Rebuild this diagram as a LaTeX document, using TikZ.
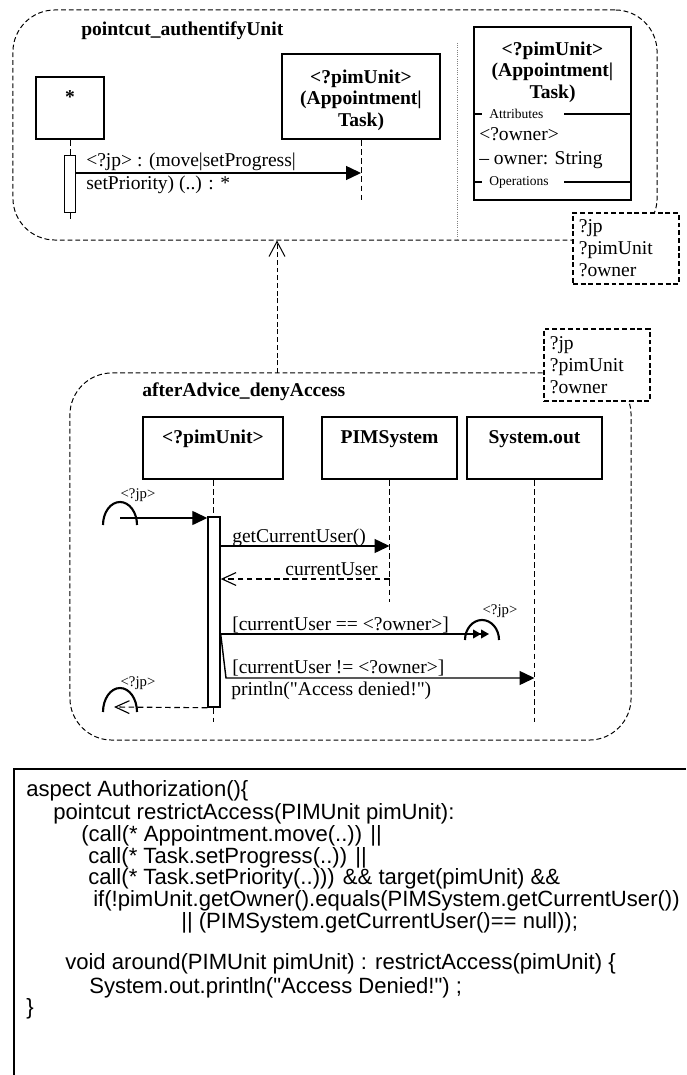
\documentclass[tikz,border=0pt]{standalone}
\usepackage{fontspec}
\setmainfont{Liberation Serif}
\newfontfamily\codefont{Liberation Sans}
\usetikzlibrary{arrows.meta, positioning, calc}

\begin{document}
\begin{tikzpicture}[
    x=0.025cm, y=-0.025cm,
    txt/.style={inner sep=0pt, font=\fontsize{13.9}{15.6}\selectfont},
    bold/.style={inner sep=0pt, font=\fontsize{13.9}{15.3}\selectfont\bfseries},
    compart/.style={inner sep=0pt, font=\fontsize{9.6}{11}\selectfont},
    jplabel/.style={inner sep=0pt, font=\fontsize{10.5}{12}\selectfont},
    code/.style={inner sep=0pt, anchor=base west, font=\codefont\fontsize{15.7}{17}\selectfont},
    group/.style={draw, line width=0.7pt, dash pattern=on 3.5pt off 2pt, rounded corners=1.05cm},
    params/.style={draw, fill=white, line width=1.2pt, dash pattern=on 3.5pt off 2pt, anchor=north west, align=left,
        text width=2.35cm, inner xsep=0.15cm, inner ysep=0.12cm, font=\fontsize{13.9}{15.6}\selectfont},
    obj/.style={draw, line width=1.3pt, inner sep=0pt},
    act/.style={draw, fill=white, line width=1pt, inner sep=0pt},
    life/.style={line width=0.7pt, dash pattern=on 4pt off 2.5pt},
    msg/.style={line width=1pt, -{Triangle[length=0.375cm, width=0.35cm]}},
    reply/.style={line width=0.8pt, dash pattern=on 4pt off 2.5pt, -{Straight Barb[length=0.35cm, width=0.32cm]}},
    jparc/.style={line width=1.5pt}
]
    \useasboundingbox (0,0) rectangle (686,1075);

    % pointcut
    \node[group, minimum width=16.1cm, minimum height=5.75cm] (pointcut) at (335,125) {};
    \node[bold, anchor=base west] (pctitle) at (81,36) {pointcut\_authentifyUnit};

    \node[obj, minimum width=1.7cm, minimum height=1.55cm] (star) at (70,108) {};
    \node[bold, anchor=base] (starname) at (70,104) {*};
    \node[obj, minimum width=3.95cm, minimum height=2.125cm] (unit) at (361,96.5) {};
    \node[bold, align=center, anchor=north] (unitname) at (361,69.5) {<?pimUnit>\\(Appointment|\\Task)};

    \coordinate (starend) at (70,222);
    \coordinate (unitend) at (361,200);
    \coordinate (callend) at (361,173);
    \draw[life] (star.south) -- (starend);
    \draw[life] (unit.south) -- (unitend);
    \node[act, minimum width=0.275cm, minimum height=1.425cm] (act1) at (70,184) {};
    \draw[msg] (act1.east |- callend) -- (callend);
    \node[txt, anchor=base west] (calllbl1) at (86,167) {<?jp> : (move|setProgress|};
    \node[txt, anchor=base west] (calllbl2) at (86,190) {setPriority) (..) : *};

    \draw[densely dotted, gray, line width=0.6pt] (457,43) -- (457,240);

    % class
    \node[obj, minimum width=3.925cm, minimum height=4.325cm] (cls) at (552.5,113.5) {};
    \node[bold, align=center, anchor=north] (clsname) at (552.5,41.5) {<?pimUnit>\\(Appointment|\\Task)};
    \node[compart, anchor=west] (attrs) at (489,114) {Attributes};
    \draw[line width=1.3pt] (cls.west |- attrs) -- ++(9,0);
    \draw[line width=1.3pt] (564,114) -- (cls.east |- attrs);
    \node[txt, anchor=base west] (owner1) at (479,141) {<?owner>};
    \node[txt, anchor=base west] (owner2) at (479,165) {-- owner: String};
    \node[compart, anchor=west] (ops) at (489,182) {Operations};
    \draw[line width=1.3pt] (cls.west |- ops) -- ++(9,0);
    \draw[line width=1.3pt] (564,182) -- (cls.east |- ops);

    \node[params, minimum height=1.775cm] (vars1) at (572,212) {?jp\\?pimUnit\\?owner};

    % advice
    \node[group, minimum width=14.025cm, minimum height=9.175cm] (advice) at (350.5,556.5) {};
    \node[params, minimum height=1.8cm] (vars2) at (543,328) {?jp\\?pimUnit\\?owner};
    \coordinate (dep) at (277,373);
    \draw[line width=0.7pt, dash pattern=on 3.5pt off 2pt, -{Straight Barb[length=0.375cm, width=0.4cm]}] (dep) -- (dep |- pointcut.south);
    \node[bold, anchor=base west] (adtitle) at (142,396) {afterAdvice\_denyAccess};

    \node[obj, minimum width=3.5cm, minimum height=1.55cm] (pim) at (213,448) {};
    \node[bold, anchor=base] (pimname) at (213,443) {<?pimUnit>};
    \node[obj, minimum width=3.375cm, minimum height=1.55cm] (pims) at (389.5,448) {};
    \node[bold, anchor=base] (pimsname) at (389.5,443) {PIMSystem};
    \node[obj, minimum width=3.375cm, minimum height=1.55cm] (sysout) at (534.5,448) {};
    \node[bold, anchor=base] (sysoutname) at (534.5,443) {System.out};

    \coordinate (pimend) at (213,722);
    \coordinate (pimsend) at (389.5,602);
    \coordinate (sysend) at (534.5,722);
    \draw[life] (pim.south) -- (pimend);
    \draw[life] (pims.south) -- (pimsend);
    \draw[life] (sysout.south) -- (sysend);
    \node[act, minimum width=0.3cm, minimum height=4.75cm] (act2) at (214,612) {};

    % found message
    \coordinate (jpin) at (120,518);
    \draw[jparc] (103,525) arc[start angle=180, end angle=0, x radius=0.425cm, y radius=0.575cm];
    \draw[msg] (jpin) -- (act2.west |- jpin);
    \node[jplabel] (jpinlbl) at (138,495) {<?jp>};

    \coordinate (gcu) at (389.5,546);
    \draw[msg] (act2.east |- gcu) -- (gcu);
    \node[txt, anchor=base west] (gculbl) at (232,542) {getCurrentUser()};

    \coordinate (cu) at (389.5,579);
    \draw[reply] (cu) -- (act2.east |- cu);
    \node[txt, anchor=base east] (culbl) at (378,575) {currentUser};

    % proceed
    \coordinate (jpout) at (489,634);
    \draw[line width=1pt, -{Triangle[length=0.2cm, width=0.22cm] Triangle[length=0.2cm, width=0.22cm]}] (act2.east |- jpout) -- (jpout);
    \draw[jparc] (465,640) arc[start angle=180, end angle=0, x radius=0.425cm, y radius=0.5cm];
    \node[jplabel] (jpoutlbl) at (500,611) {<?jp>};
    \node[txt, anchor=base west] (eqlbl) at (232,630) {[currentUser == <?owner>]};

    \coordinate (bend) at (226,678);
    \coordinate (sysmsg) at (534.5,678);
    \draw[msg] (act2.east |- jpout) -- (bend) -- (sysmsg);
    \node[txt, anchor=base west] (neqlbl) at (232,673) {[currentUser != <?owner>]};
    \node[txt, anchor=base west] (printlbl) at (231,695) {println(\textquotedbl Access denied!\textquotedbl)};

    % return
    \coordinate (jpret) at (114,707);
    \draw[reply] (act2.south west) -- (jpret);
    \draw[jparc] (103,712) arc[start angle=180, end angle=0, x radius=0.425cm, y radius=0.6cm];
    \node[jplabel] (jpretlbl) at (138,683) {<?jp>};

    % aspectj code
    \draw[line width=1.2pt] (686,769) -- (14,769) -- (14,1075);
    \node[code] (c1) at (26,796) {aspect Authorization()\{};
    \node[code] (c2) at (53,819) {pointcut restrictAccess(PIMUnit pimUnit):};
    \node[code] (c3) at (81,841) {(call(* Appointment.move(..)) ||};
    \node[code] (c4) at (88,863) {call(* Task.setProgress(..)) ||};
    \node[code] (c5) at (88,884) {call(* Task.setPriority(..))) \&\& target(pimUnit) \&\&};
    \node[code] (c6) at (93,906) {if(!pimUnit.getOwner().equals(PIMSystem.getCurrentUser())};
    \node[code] (c7) at (181,928) {|| (PIMSystem.getCurrentUser()== null));};
    \node[code] (c8) at (65,969) {void around(PIMUnit pimUnit) : restrictAccess(pimUnit) \{};
    \node[code] (c9) at (89,993) {System.out.println("Access Denied!") ;};
    \node[code] (c10) at (26,1014) {\}};
\end{tikzpicture}
\end{document}
